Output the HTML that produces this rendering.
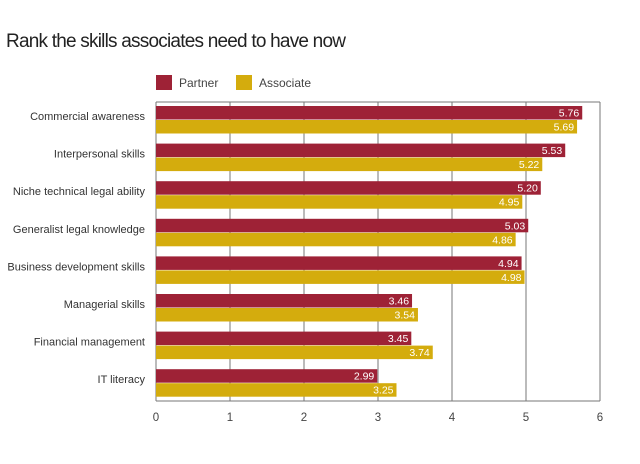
<!DOCTYPE html>
<html><head><meta charset="utf-8"><style>
body{margin:0;background:#fff;font-family:"Liberation Sans",sans-serif;}
</style></head><body>
<svg width="640" height="459" id="c">
<text x="6" y="47" font-size="19" fill="#222" font-family="Liberation Sans Narrow, Liberation Sans, sans-serif" textLength="340">Rank the skills associates need to have now</text>
<rect x="156" y="75" width="16" height="15" fill="#9e2236"/>
<text x="179" y="87" font-size="12" fill="#444">Partner</text>
<rect x="236" y="75" width="16" height="15" fill="#d4ac0d"/>
<text x="259" y="87" font-size="12" fill="#444">Associate</text>
<g id="plot"></g>
</svg>
<script>
const categories=["Commercial awareness","Interpersonal skills","Niche technical legal ability","Generalist legal knowledge","Business development skills","Managerial skills","Financial management","IT literacy"];
const partner=[5.76,5.53,5.20,5.03,4.94,3.46,3.45,2.99];
const associate=[5.69,5.22,4.95,4.86,4.98,3.54,3.74,3.25];
const ticks=[0,1,2,3,4,5,6];
const X0=156,X1=600,Y0=102,Y1=401,max=6;
const x=v=>X0+(X1-X0)*v/max;
const g=document.getElementById('plot');
const NS='http://www.w3.org/2000/svg';
function mk(t,a){const e=document.createElementNS(NS,t);for(const k in a)e.setAttribute(k,a[k]);g.appendChild(e);return e;}
ticks.forEach(t=>{
 const l=mk('line',{x1:x(t),x2:x(t),y1:Y0,y2:Y1,stroke:'#777','stroke-width':1});
 
 
 const tx=mk('text',{x:x(t),y:Y1+20,'text-anchor':'middle','font-size':11.5,fill:'#444'});
 tx.textContent=t;
 
 
});
const topBorder=mk('line',{x1:X0,x2:X1,y1:Y0,y2:Y0,stroke:'#777'});


const bot=mk('line',{x1:X0,x2:X1,y1:Y1,y2:Y1,stroke:'#777'});


const pitch=37.6;
categories.forEach((c,i)=>{
 const y=106+i*pitch;
 const lab=mk('text',{x:145,y:y+14,'text-anchor':'end','font-size':11,fill:'#333'});
 lab.textContent=c;
 
 
 [[partner[i],'#9e2236','partner',y],[associate[i],'#d4ac0d','associate',y+14]].forEach(([v,col,s,yy])=>{
  const r=mk('rect',{x:X0,y:yy,width:x(v)-X0,height:13.5,fill:col});
  
  
  const t=mk('text',{x:x(v)-3,y:yy+10.5,'text-anchor':'end','font-size':10.5,fill:'#fff'});
  t.textContent=v.toFixed(2);
  
  
 });
});
</script>
</body></html>
